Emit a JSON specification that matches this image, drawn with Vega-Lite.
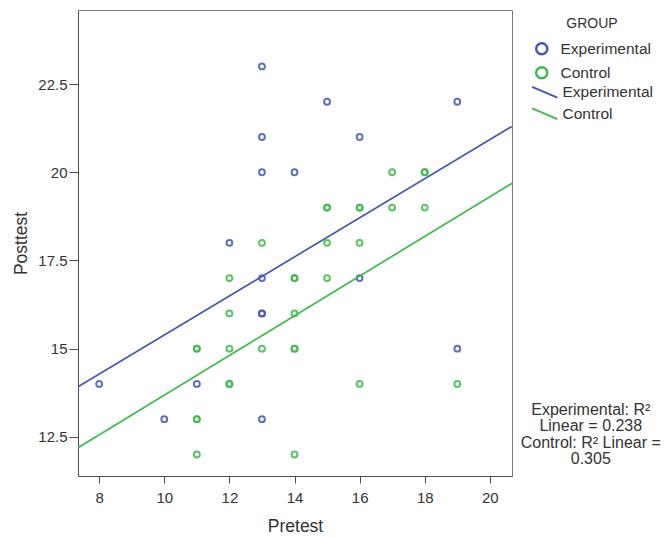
{
  "$schema": "https://vega.github.io/schema/vega-lite/v6.json",
  "autosize": {"type": "none"},
  "padding": {"left": 78, "top": 10, "right": 153, "bottom": 61},
  "width": 434,
  "height": 466,
  "background": "white",
  "config": {
    "font": "Liberation Sans",
    "view": {"stroke": "#7a7a7a", "strokeWidth": 1},
    "axis": {
      "grid": false,
      "domainColor": "#4d4d4d",
      "tickColor": "#4d4d4d",
      "labelColor": "#333333",
      "titleColor": "#333333",
      "labelFontSize": 15,
      "titleFontSize": 17.5,
      "titleFontWeight": "normal",
      "labelFont": "Liberation Sans",
      "titleFont": "Liberation Sans"
    },
    "legend": {
      "labelFont": "Liberation Sans",
      "titleFont": "Liberation Sans",
      "labelFontSize": 15.5,
      "labelColor": "#333333",
      "titleColor": "#333333",
      "titleFontSize": 14,
      "titleFontWeight": "normal",
      "padding": 0
    }
  },
  "datasets": {
    "points": [
      {"Group": "Experimental", "Pretest": 8, "Posttest": 14},
      {"Group": "Experimental", "Pretest": 10, "Posttest": 13},
      {"Group": "Experimental", "Pretest": 11, "Posttest": 14},
      {"Group": "Experimental", "Pretest": 12, "Posttest": 18},
      {"Group": "Experimental", "Pretest": 13, "Posttest": 23},
      {"Group": "Experimental", "Pretest": 13, "Posttest": 21},
      {"Group": "Experimental", "Pretest": 13, "Posttest": 20},
      {"Group": "Experimental", "Pretest": 13, "Posttest": 17},
      {"Group": "Experimental", "Pretest": 13, "Posttest": 16},
      {"Group": "Experimental", "Pretest": 13, "Posttest": 16},
      {"Group": "Experimental", "Pretest": 13, "Posttest": 13},
      {"Group": "Experimental", "Pretest": 14, "Posttest": 20},
      {"Group": "Experimental", "Pretest": 15, "Posttest": 22},
      {"Group": "Experimental", "Pretest": 16, "Posttest": 21},
      {"Group": "Experimental", "Pretest": 16, "Posttest": 17},
      {"Group": "Experimental", "Pretest": 19, "Posttest": 22},
      {"Group": "Experimental", "Pretest": 19, "Posttest": 15},
      {"Group": "Control", "Pretest": 11, "Posttest": 15},
      {"Group": "Control", "Pretest": 11, "Posttest": 15},
      {"Group": "Control", "Pretest": 11, "Posttest": 13},
      {"Group": "Control", "Pretest": 11, "Posttest": 13},
      {"Group": "Control", "Pretest": 11, "Posttest": 12},
      {"Group": "Control", "Pretest": 12, "Posttest": 17},
      {"Group": "Control", "Pretest": 12, "Posttest": 16},
      {"Group": "Control", "Pretest": 12, "Posttest": 15},
      {"Group": "Control", "Pretest": 12, "Posttest": 14},
      {"Group": "Control", "Pretest": 12, "Posttest": 14},
      {"Group": "Control", "Pretest": 13, "Posttest": 18},
      {"Group": "Control", "Pretest": 13, "Posttest": 15},
      {"Group": "Control", "Pretest": 14, "Posttest": 17},
      {"Group": "Control", "Pretest": 14, "Posttest": 17},
      {"Group": "Control", "Pretest": 14, "Posttest": 16},
      {"Group": "Control", "Pretest": 14, "Posttest": 15},
      {"Group": "Control", "Pretest": 14, "Posttest": 15},
      {"Group": "Control", "Pretest": 14, "Posttest": 12},
      {"Group": "Control", "Pretest": 15, "Posttest": 19},
      {"Group": "Control", "Pretest": 15, "Posttest": 19},
      {"Group": "Control", "Pretest": 15, "Posttest": 18},
      {"Group": "Control", "Pretest": 15, "Posttest": 17},
      {"Group": "Control", "Pretest": 16, "Posttest": 19},
      {"Group": "Control", "Pretest": 16, "Posttest": 19},
      {"Group": "Control", "Pretest": 16, "Posttest": 18},
      {"Group": "Control", "Pretest": 16, "Posttest": 14},
      {"Group": "Control", "Pretest": 17, "Posttest": 20},
      {"Group": "Control", "Pretest": 17, "Posttest": 19},
      {"Group": "Control", "Pretest": 18, "Posttest": 20},
      {"Group": "Control", "Pretest": 18, "Posttest": 20},
      {"Group": "Control", "Pretest": 18, "Posttest": 19},
      {"Group": "Control", "Pretest": 19, "Posttest": 14}
    ],
    "fit": [
      {"Group": "Experimental", "Pretest": 7.35, "Posttest": 13.92},
      {"Group": "Experimental", "Pretest": 20.68, "Posttest": 21.3},
      {"Group": "Control", "Pretest": 7.35, "Posttest": 12.19},
      {"Group": "Control", "Pretest": 20.68, "Posttest": 19.69}
    ],
    "note": [
      {"Pretest": 23.1, "Posttest": 13.5, "label": ["Experimental: R²", "Linear = 0.238", "Control: R² Linear =", "0.305"]}
    ]
  },
  "layer": [
    {
      "data": {"name": "points"},
      "mark": {"type": "point", "shape": "circle", "filled": false, "size": 34, "strokeWidth": 2, "opacity": 0.85},
      "encoding": {
        "x": {
          "field": "Pretest", "type": "quantitative",
          "scale": {"domain": [7.35, 20.68], "nice": false, "zero": false},
          "axis": {"values": [8, 10, 12, 14, 16, 18, 20], "tickSize": 7, "labelPadding": 7, "titlePadding": 12, "title": "Pretest"}
        },
        "y": {
          "field": "Posttest", "type": "quantitative",
          "scale": {"domain": [11.39, 24.6], "nice": false, "zero": false},
          "axis": {"values": [12.5, 15, 17.5, 20, 22.5], "format": ".1~f", "tickSize": 9, "labelPadding": 2, "titlePadding": 7, "title": "Posttest"}
        },
        "color": {
          "field": "Group", "type": "nominal",
          "scale": {"domain": ["Experimental", "Control"], "range": ["#4558b0", "#3dbb4a"]},
          "legend": {
            "title": "GROUP", "orient": "none", "legendX": 456, "legendY": 7,
            "symbolType": "circle", "symbolSize": 125, "symbolStrokeWidth": 2.5, "symbolFillColor": "transparent",
            "symbolOpacity": 1,
            "titleAnchor": "middle", "titlePadding": 10, "labelOffset": 11, "rowPadding": 2
          }
        }
      }
    },
    {
      "data": {"name": "fit"},
      "mark": {"type": "line", "strokeWidth": 1.7, "clip": true},
      "encoding": {
        "x": {"field": "Pretest", "type": "quantitative"},
        "y": {"field": "Posttest", "type": "quantitative"},
        "color": {
          "field": "Group", "type": "nominal",
          "scale": {"domain": ["Experimental", "Control"], "range": ["#4558b0", "#3dbb4a"]},
          "legend": {
            "title": null, "orient": "none", "legendX": 459, "legendY": 74.5,
            "symbolType": "M-2.1,-0.9L2.1,0.9", "symbolSize": 144, "symbolStrokeWidth": 2, "symbolFillColor": "transparent",
            "labelOffset": 10, "rowPadding": 1.5
          }
        }
      }
    },
    {
      "data": {"name": "note"},
      "mark": {"type": "text", "align": "center", "baseline": "top", "fontSize": 16, "lineHeight": 16.5, "color": "#333333", "font": "Liberation Sans"},
      "encoding": {
        "x": {"field": "Pretest", "type": "quantitative"},
        "y": {"field": "Posttest", "type": "quantitative"},
        "text": {"field": "label"}
      }
    }
  ],
  "resolve": {"scale": {"color": "independent"}, "legend": {"color": "independent"}}
}
